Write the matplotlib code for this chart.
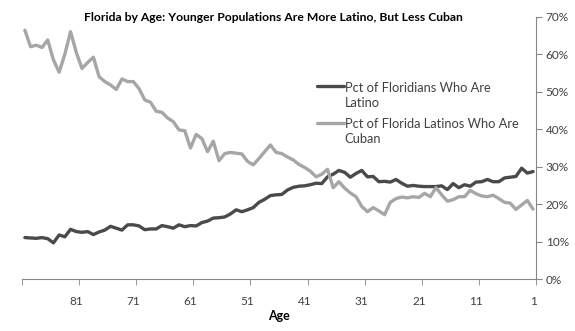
import matplotlib
matplotlib.use("Agg")
import matplotlib.pyplot as plt
import numpy as np

# ages run from 90 down to 1 (left to right)
ages = list(range(90, 0, -1))

# Pct of Floridians who are Latino (percent)
pct_latino = [
    11.1, 11.0, 10.9, 11.1, 10.8, 9.7, 11.8, 11.3, 13.3, 12.7,   # 90-81
    12.5, 12.7, 11.9, 12.6, 13.1, 14.1, 13.6, 13.1, 14.5, 14.5,  # 80-71
    14.2, 13.2, 13.4, 13.4, 14.3, 14.0, 13.6, 14.5, 14.0, 14.3,  # 70-61
    14.2, 15.1, 15.5, 16.3, 16.4, 16.6, 17.4, 18.5, 18.0, 18.5,  # 60-51
    19.1, 20.5, 21.3, 22.3, 22.5, 22.6, 23.8, 24.5, 24.8, 24.9,  # 50-41
    25.2, 25.6, 25.5, 27.3, 28.0, 29.0, 28.5, 27.2, 28.2, 29.0,  # 40-31
    27.3, 27.4, 26.0, 26.1, 25.9, 26.6, 25.6, 24.8, 25.0, 24.8,  # 30-21
    24.7, 24.7, 24.7, 24.9, 23.9, 25.5, 24.4, 25.2, 24.8, 25.9,  # 20-11
    26.0, 26.6, 26.0, 26.0, 27.0, 27.2, 27.4, 29.6, 28.3, 28.7,  # 10-1
]

# Pct of Florida Latinos who are Cuban (percent)
pct_cuban = [
    66.4, 62.0, 62.4, 61.8, 63.8, 58.5, 55.2, 60.0, 66.0, 60.5,  # 90-81
    56.2, 57.8, 59.2, 54.0, 52.7, 51.8, 50.6, 53.4, 52.7, 52.7,  # 80-71
    50.8, 47.8, 47.2, 44.8, 44.5, 43.0, 42.0, 39.8, 39.6, 35.0,  # 70-61
    38.6, 37.5, 34.0, 36.8, 31.6, 33.5, 33.8, 33.6, 33.4, 31.4,  # 60-51
    30.5, 32.2, 34.0, 35.8, 33.8, 33.5, 32.6, 31.8, 30.6, 29.8,  # 50-41
    28.8, 27.3, 28.0, 29.3, 24.4, 26.0, 24.3, 23.0, 22.0, 19.4,  # 40-31
    18.0, 19.1, 18.2, 17.2, 20.5, 21.5, 21.9, 21.7, 22.0, 21.8,  # 30-21
    22.9, 22.0, 24.4, 22.5, 20.8, 21.2, 22.0, 22.0, 23.7, 22.8,  # 20-11
    22.2, 22.0, 22.4, 21.5, 20.5, 20.3, 18.6, 19.8, 21.0, 18.7,  # 10-1
]

tick_ages = [81, 71, 61, 51, 41, 31, 21, 11, 1]
y_ticks = [0, 10, 20, 30, 40, 50, 60, 70]

plt.rcParams["font.family"] = ["Lato", "DejaVu Sans"]

fig = plt.figure(figsize=(5.75, 3.31), dpi=100)
ax = fig.add_axes([0.0383, 0.1565, 0.8937, 0.793])

ax.plot(ages, pct_latino, color="#4a4a4a", lw=2.4, solid_joinstyle="round",
        solid_capstyle="round", label="Pct of Floridians Who Are\nLatino")
ax.plot(ages, pct_cuban, color="#a6a6a6", lw=2.4, solid_joinstyle="round",
        solid_capstyle="round", label="Pct of Florida Latinos Who Are\nCuban")

ax.set_xlim(90.5, 0.5)
ax.set_ylim(0, 70)

axis_col = "#868686"
for s in ["top", "left"]:
    ax.spines[s].set_visible(False)
ax.spines["right"].set_color(axis_col)
ax.spines["bottom"].set_color(axis_col)

ax.yaxis.tick_right()
ax.set_yticks(y_ticks)
ax.set_yticklabels([f"{v}%" for v in y_ticks])
ax.tick_params(axis="y", direction="out", length=4, color=axis_col,
               labelsize=8.5, labelcolor="#404040", pad=3)

ax.set_xticks(tick_ages)
ax.set_xticklabels([str(a) for a in tick_ages])
ax.set_xticks(np.arange(90.5, 0, -10), minor=True)
ax.tick_params(axis="x", which="major", length=0, labelsize=8.5,
               labelcolor="#404040", pad=12)
ax.tick_params(axis="x", which="minor", direction="out", length=4,
               color=axis_col)

ax.set_xlabel("Age", fontsize=9, fontweight="bold", labelpad=2)

fig.text(0.475, 0.948, "Florida by Age: Younger Populations Are More Latino, But Less Cuban",
         ha="center", va="center", fontsize=8.7, fontweight="bold")

leg = ax.legend(loc="upper left", bbox_to_anchor=(0.574, 0.752), frameon=False,
                fontsize=9.3, handlelength=2.1, handletextpad=0.05,
                labelspacing=0.75, borderpad=0, borderaxespad=0)
for t in leg.get_texts():
    t.set_color("#404040")
    t.set_linespacing(1.3)
# put each key line next to the first line of its label
for col in leg._legend_handle_box.get_children():
    for hp in col.get_children():
        hp.align = "top"
for h in leg.legend_handles:
    h.set_linewidth(2.4)

fig.savefig("out.png", dpi=100)
